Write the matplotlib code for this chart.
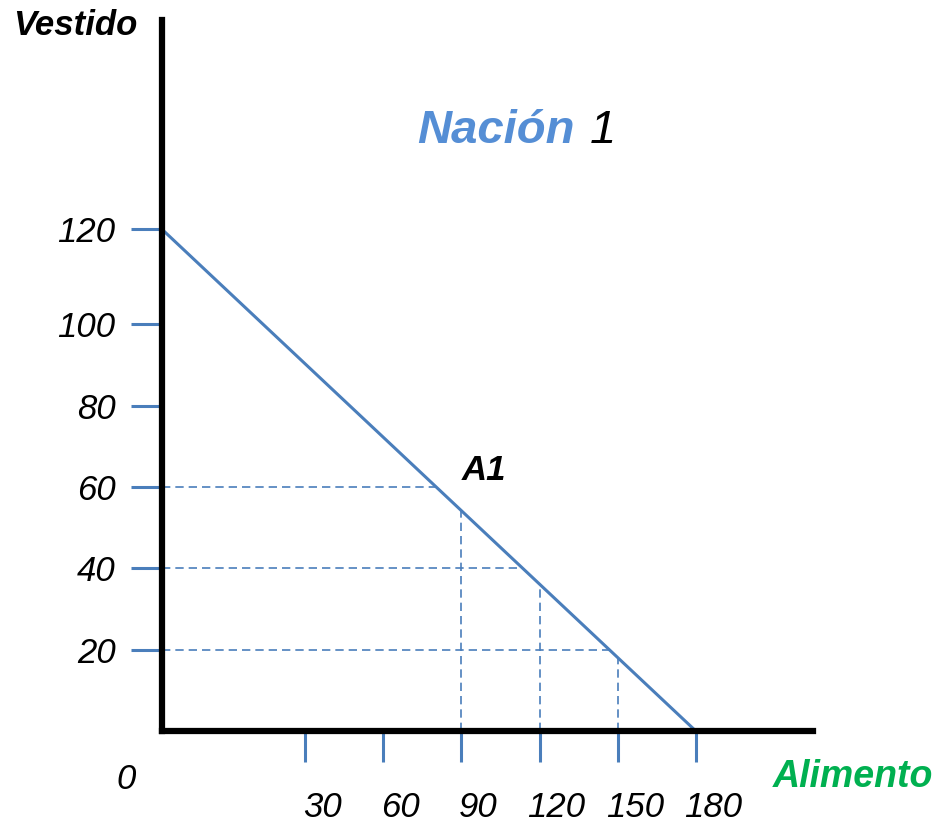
import numpy as np
import matplotlib.pyplot as plt
from matplotlib.transforms import ScaledTranslation

plt.rcParams['font.family'] = ['Liberation Sans', 'DejaVu Sans']

# production possibility frontier of nation 1
food_ticks = [30, 60, 90, 120, 150, 180]
cloth_ticks = [20, 40, 60, 80, 100, 120]
ppf_food = [0, 180]
ppf_cloth = [120, 0]
guide_food = [90, 120, 150]
guide_cloth = [60, 40, 20]
point_food, point_cloth = 90, 60

LINE = '#4a7ebb'


# the sketch stretches the first 30 units of food and the top 20 of cloth
def fwd_x(x):
    x = np.asarray(x, float)
    return np.where(x < 30, x * 55 / 30, x + 25)


def inv_x(s):
    s = np.asarray(s, float)
    return np.where(s < 55, s * 30 / 55, s - 25)


def fwd_y(y):
    y = np.asarray(y, float)
    return np.where(y < 100, y, 100 + (y - 100) * 1.17)


def inv_y(s):
    s = np.asarray(s, float)
    return np.where(s < 100, s, 100 + (s - 100) / 1.17)


fig = plt.figure(figsize=(9.36, 8.25), dpi=100)
ax = fig.add_axes([162 / 936, 94 / 825, 651 / 936, 711 / 825])
ax.set_xscale('function', functions=(fwd_x, inv_x))
ax.set_yscale('function', functions=(fwd_y, inv_y))
ax.set_xlim(0, 225)
ax.set_ylim(0, 164)

ax.plot(ppf_food, ppf_cloth, color=LINE, lw=2.2, solid_capstyle='butt', zorder=3)

# dashed guides run from the axes to where they meet the frontier (in drawn space)
sx0, sx1 = float(fwd_x(ppf_food[0])), float(fwd_x(ppf_food[1]))
sy0, sy1 = float(fwd_y(ppf_cloth[0])), float(fwd_y(ppf_cloth[1]))
for f, c in zip(guide_food, guide_cloth):
    sy = float(fwd_y(c))
    hx = inv_x(sx0 + (sy - sy0) / (sy1 - sy0) * (sx1 - sx0))
    ax.plot([0, hx], [c, c], color=LINE, lw=1.2, dashes=(5, 3))
    sx = float(fwd_x(f))
    vy = inv_y(sy0 + (sx - sx0) / (sx1 - sx0) * (sy1 - sy0))
    ax.plot([f, f], [0, vy], color=LINE, lw=1.2, dashes=(5, 3))

for s in ['top', 'right']:
    ax.spines[s].set_visible(False)
for s in ['left', 'bottom']:
    ax.spines[s].set_linewidth(4.5)
    ax.spines[s].set_color('black')
    ax.spines[s].set_zorder(4)

ax.set_xticks(food_ticks)
ax.set_yticks(cloth_ticks)
ax.set_xticklabels([str(v) for v in food_ticks])
ax.set_yticklabels([str(v) for v in cloth_ticks])
ax.minorticks_off()
ax.tick_params(axis='both', direction='out', length=22.5, width=2.2, color=LINE,
               labelsize=25)
ax.tick_params(axis='x', pad=21)
ax.tick_params(axis='y', pad=11)
shift = ScaledTranslation(0.17, 0, fig.dpi_scale_trans)
for lab in ax.get_xticklabels():
    lab.set_fontstyle('italic')
    lab.set_transform(lab.get_transform() + shift)
for lab in ax.get_yticklabels():
    lab.set_fontstyle('italic')

ax.annotate('0', xy=(0, 0), xytext=(-26, -35), textcoords='offset points',
            ha='center', va='center', fontsize=25, fontstyle='italic')
ax.annotate('A1', xy=(point_food, point_cloth), xytext=(0, 5), textcoords='offset points',
            ha='left', va='baseline', fontsize=25, fontweight='bold', fontstyle='italic')

fig.text(13 / 936, 1 - 35 / 825, 'Vestido', fontsize=25, fontweight='bold',
         fontstyle='italic', va='baseline')
fig.text(933 / 936, 1 - 787 / 825, 'Alimento', fontsize=27, fontweight='bold',
         fontstyle='italic', color='#00b050', ha='right', va='baseline')
fig.text(417 / 936, 1 - 143 / 825, 'Nación', fontsize=34, fontweight='bold',
         fontstyle='italic', color='#558ed5', va='baseline')
fig.text(590 / 936, 1 - 143 / 825, '1', fontsize=34, fontstyle='italic', va='baseline')

fig.savefig('out.png', dpi=100)
